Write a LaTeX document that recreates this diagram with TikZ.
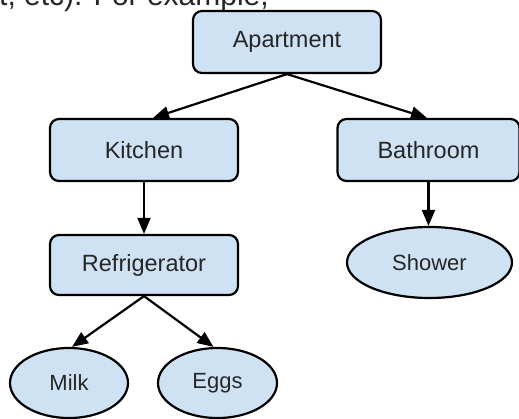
\documentclass[tikz,border=0pt]{standalone}
\usepackage{fontspec}
\setmainfont{Liberation Sans}
\usetikzlibrary{arrows.meta,shapes.geometric}
\definecolor{boxfill}{HTML}{CFE2F3}
\definecolor{txt}{HTML}{262626}
\begin{document}
\begin{tikzpicture}[x=1pt,y=-1pt,
  box/.style={draw=black,line width=2.2pt,fill=boxfill,rounded corners=9pt,
    minimum width=188pt,minimum height=62pt,inner sep=0pt,text=txt,
    font=\fontsize{23.5}{28}\selectfont},
  oval/.style={draw=black,line width=2.2pt,fill=boxfill,ellipse,inner sep=0pt,text=txt,
    font=\fontsize{22}{26}\selectfont},
  link/.style={draw=black,line width=2.2pt,-{Triangle[length=16pt,width=13pt]}}]
\clip (0,0) rectangle (519,418);
\fill[white] (0,0) rectangle (519,418);
\node[anchor=base west,font=\fontsize{30}{36}\selectfont,text=txt,inner sep=0pt] (intro) at (-1,5.5) {t, etc). For example,};
\node[box] (apt) at (287,42) {Apartment};
\node[box] (kit) at (144,150) {Kitchen};
\node[box,minimum width=182pt] (bath) at (428.5,150) {Bathroom};
\node[box,minimum height=60pt] (fridge) at (144,265) {Refrigerator};
\node[oval,minimum width=165pt,minimum height=71pt] (shower) at (429.5,262.5) {Shower};
\node[oval,minimum width=118pt,minimum height=70pt] (milk) at (69,383) {Milk};
\node[oval,minimum width=119pt,minimum height=70pt] (eggs) at (217.5,383) {Eggs};
\draw[link] (apt.south) -- ([xshift=9pt]kit.north);
\draw[link] (apt.south) -- ([xshift=-1.5pt]bath.north);
\draw[link] (kit.south) -- (fridge.north);
\draw[link] (bath.south) -- (bath.south |- shower.north);
\draw[link] (fridge.south) -- ([xshift=3pt]milk.north);
\draw[link] (fridge.south) -- ([xshift=-4pt]eggs.north);
\end{tikzpicture}
\end{document}
